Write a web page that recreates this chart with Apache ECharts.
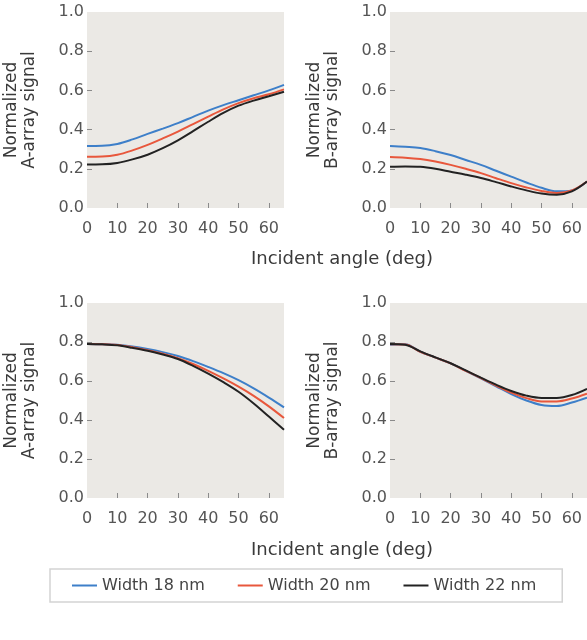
<!DOCTYPE html>
<html>
<head>
<meta charset="utf-8">
<script src="https://cdn.jsdelivr.net/npm/echarts@6/dist/echarts.min.js"></script>
<style>html,body{margin:0;padding:0;background:#fff;}#c{width:587px;height:640px;}</style>
</head>
<body>
<div id="c"></div>
<script>
// ---- data ----
var angles = [0, 5, 10, 15, 20, 25, 30, 35, 40, 45, 50, 55, 60, 65];
var seriesNames = ['Width 18 nm', 'Width 20 nm', 'Width 22 nm'];
var xTickValues = [10, 20, 30, 40, 50, 60];
var xLabelValues = [0, 10, 20, 30, 40, 50, 60];
var yTickValues = [0.2, 0.4, 0.6, 0.8];

// Panel 1: A-array, top
var topA18 = [0.316, 0.317, 0.327, 0.350, 0.378, 0.405, 0.433, 0.465, 0.497, 0.525, 0.550, 0.575, 0.600, 0.628];
var topA20 = [0.262, 0.263, 0.272, 0.294, 0.322, 0.355, 0.390, 0.428, 0.466, 0.503, 0.535, 0.560, 0.580, 0.605];
var topA22 = [0.222, 0.223, 0.230, 0.248, 0.272, 0.305, 0.345, 0.392, 0.440, 0.485, 0.522, 0.548, 0.570, 0.593];
// Panel 2: B-array, top
var topB18 = [0.316, 0.312, 0.306, 0.290, 0.270, 0.245, 0.220, 0.190, 0.160, 0.130, 0.103, 0.085, 0.090, 0.135];
var topB20 = [0.260, 0.257, 0.250, 0.237, 0.220, 0.200, 0.178, 0.152, 0.127, 0.105, 0.087, 0.077, 0.089, 0.135];
var topB22 = [0.210, 0.212, 0.210, 0.200, 0.185, 0.170, 0.153, 0.132, 0.110, 0.090, 0.074, 0.068, 0.085, 0.135];
// Panel 3: A-array, bottom
var botA18 = [0.790, 0.789, 0.786, 0.777, 0.764, 0.748, 0.728, 0.702, 0.672, 0.640, 0.604, 0.562, 0.515, 0.465];
var botA20 = [0.790, 0.789, 0.785, 0.773, 0.758, 0.740, 0.717, 0.687, 0.652, 0.613, 0.571, 0.524, 0.470, 0.410];
var botA22 = [0.790, 0.788, 0.783, 0.770, 0.755, 0.736, 0.713, 0.678, 0.638, 0.594, 0.545, 0.485, 0.418, 0.350];
// Panel 4: B-array, bottom
var botB18 = [0.786, 0.788, 0.750, 0.720, 0.690, 0.652, 0.613, 0.573, 0.533, 0.500, 0.477, 0.472, 0.490, 0.515];
var botB20 = [0.788, 0.787, 0.750, 0.720, 0.690, 0.652, 0.615, 0.577, 0.540, 0.512, 0.495, 0.495, 0.510, 0.535];
var botB22 = [0.790, 0.786, 0.752, 0.721, 0.691, 0.654, 0.617, 0.581, 0.549, 0.525, 0.513, 0.513, 0.528, 0.560];

var colors = ['#3d7fc9', '#e8573c', '#222222'];
var FONT = 'DejaVu Sans';

function pairs(vals) { return angles.map(function (a, i) { return [a, vals[i]]; }); }

var grids = [
  {left: 87, top: 12, width: 197, height: 196},
  {left: 390, top: 12, width: 198, height: 196},
  {left: 87, top: 303, width: 197, height: 195},
  {left: 390, top: 303, width: 198, height: 195}
];
grids.forEach(function (g) { g.show = true; g.backgroundColor = '#ebe9e5'; g.borderWidth = 0; g.containLabel = false; });

var yNames = ['Normalized\nA-array signal', 'Normalized\nB-array signal', 'Normalized\nA-array signal', 'Normalized\nB-array signal'];

var xAxes = grids.map(function (g, i) {
  return {
    type: 'value', gridIndex: i, min: 0, max: 65, interval: 10,
    axisLine: {show: false}, splitLine: {show: false},
    axisTick: {show: true, inside: true, length: 5, customValues: xTickValues, lineStyle: {color: '#8a8a8a', width: 1}},
    axisLabel: {margin: 13, color: '#555', fontFamily: FONT, fontSize: 16, customValues: xLabelValues}
  };
});
var yAxes = grids.map(function (g, i) {
  return {
    type: 'value', gridIndex: i, min: 0, max: 1, interval: 0.2,
    axisLine: {show: false}, splitLine: {show: false},
    axisTick: {show: true, inside: true, length: 5, customValues: yTickValues, lineStyle: {color: '#8a8a8a', width: 1}},
    axisLabel: {margin: 3, color: '#555', fontFamily: FONT, fontSize: 16, formatter: function (v) { return v.toFixed(1); }},
    name: yNames[i], nameLocation: 'middle', nameRotate: 90, nameGap: 48,
    nameTextStyle: {color: '#3a3a3a', fontFamily: FONT, fontSize: 17, lineHeight: 18}
  };
});

var panelData = [[topA18, topA20, topA22], [topB18, topB20, topB22], [botA18, botA20, botA22], [botB18, botB20, botB22]];
var series = [];
panelData.forEach(function (set, gi) {
  set.forEach(function (vals, si) {
    series.push({
      type: 'line', name: seriesNames[si], xAxisIndex: gi, yAxisIndex: gi,
      data: pairs(vals), smooth: 0.35, symbol: 'none', showSymbol: false,
      lineStyle: {color: colors[si], width: 2}, itemStyle: {color: colors[si]},
      z: 3 + si
    });
  });
});

var chart = echarts.init(document.getElementById('c'), null, {renderer: 'canvas'});
chart.setOption({
  animation: false,
  backgroundColor: '#ffffff',
  title: [
    {text: 'Incident angle (deg)', left: 251, top: 250, textStyle: {color: '#3a3a3a', fontFamily: FONT, fontSize: 18, fontWeight: 'normal'}, padding: 0},
    {text: 'Incident angle (deg)', left: 251, top: 541, textStyle: {color: '#3a3a3a', fontFamily: FONT, fontSize: 18, fontWeight: 'normal'}, padding: 0}
  ],
  grid: grids,
  xAxis: xAxes,
  yAxis: yAxes,
  legend: {
    data: seriesNames, left: 50, top: 569,
    icon: 'rect', itemWidth: 25, itemHeight: 2,
    padding: [8, 26, 8, 22], itemGap: 33,
    borderColor: '#d3d3d3', borderWidth: 1.5, backgroundColor: '#fff',
    textStyle: {color: '#444', fontFamily: FONT, fontSize: 16, lineHeight: 17}
  },
  series: series
});
</script>
</body>
</html>
